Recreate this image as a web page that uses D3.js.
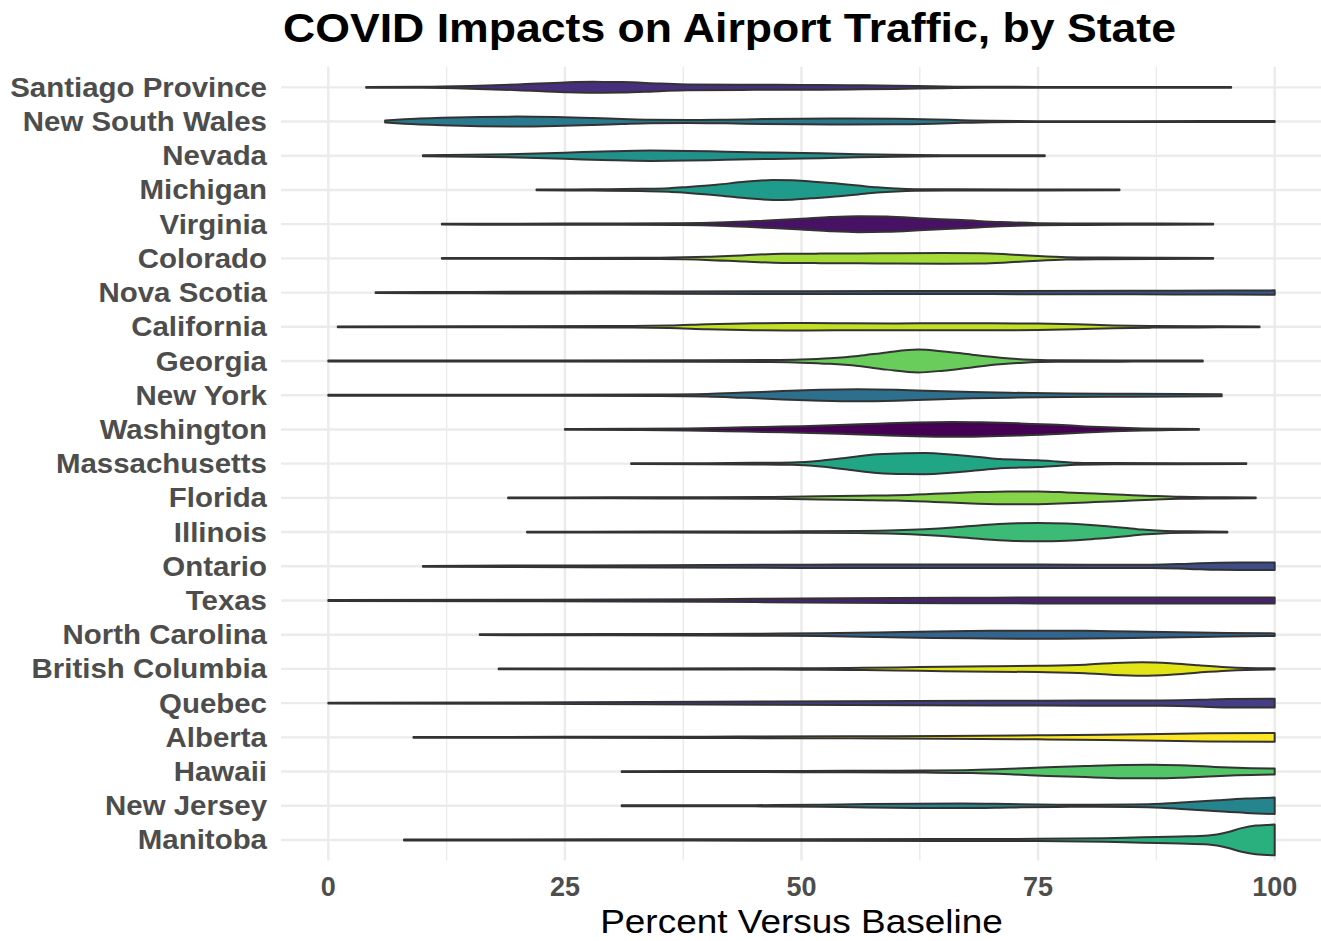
<!DOCTYPE html>
<html>
<head>
<meta charset="utf-8">
<script src="https://cdn.jsdelivr.net/npm/d3@7"></script>
<style>
  html, body { margin: 0; padding: 0; background: #ffffff; }
  svg { display: block; }
  text { font-family: "Liberation Sans", Arial, Helvetica, sans-serif; }
</style>
</head>
<body>
<svg id="chart" width="1321" height="941"></svg>
<script>
// ---------------- DATA ----------------
const chartTitle = "COVID Impacts on Airport Traffic, by State";
const xAxisTitle = "Percent Versus Baseline";
const xTicks = [0, 25, 50, 75, 100];
const xMinorTicks = [12.5, 37.5, 62.5, 87.5];

// categories, top to bottom
const states = [
  "Santiago Province", "New South Wales", "Nevada", "Michigan", "Virginia",
  "Colorado", "Nova Scotia", "California", "Georgia", "New York",
  "Washington", "Massachusetts", "Florida", "Illinois", "Ontario",
  "Texas", "North Carolina", "British Columbia", "Quebec", "Alberta",
  "Hawaii", "New Jersey", "Manitoba"
];

// estimated density profile per state: [percent vs baseline, relative density]
const santiagoProvince = [[4,0.4],[10,0.5],[15,1.3],[20,2.8],[25,4.8],[28,5.4],[31,5.2],[35,3.8],[38,2.9],[45,2.5],[50,2.4],[55,2.1],[60,1.6],[65,0.8],[70,0.5],[80,0.4],[90,0.4],[95.4,0.3]];
const newSouthWales = [[6,1],[8,2.2],[12,3.7],[16,4.6],[20,4.9],[24,4.4],[28,3.4],[31,2.5],[34,1.7],[38,1.4],[42,1.8],[46,2.4],[50,2.8],[55,3],[60,2.8],[64,2.1],[67,1.3],[70,0.7],[75,0.4],[85,0.4],[100,0.5]];
const nevada = [[10,0.5],[15,0.9],[20,1.7],[25,3],[30,4.5],[34,5.1],[38,4.8],[42,4],[47,3.1],[52,2.4],[56,1.6],[60,1],[65,0.6],[70,0.5],[75.7,0.4]];
const michigan = [[22,0.4],[28,0.6],[33,1.1],[36,1.7],[38,3],[41,5.2],[44,8],[47,9.8],[49,9.6],[51,8.3],[54,6.2],[56,4.4],[58,2.6],[60,1.4],[62,0.8],[66,0.6],[75,0.5],[83.6,0.4]];
const virginia = [[12,0.4],[20,0.5],[30,0.6],[37,0.9],[42,1.9],[46,3.5],[50,5.3],[53,7],[56,7.9],[59,7.5],[63,5.7],[67,4],[71,2.1],[75,1],[80,0.7],[88,0.6],[93.5,0.4]];
const colorado = [[12,0.4],[25,0.5],[35,0.7],[40,1.5],[44,3.2],[48,4.5],[52,4.7],[56,4.8],[60,5.1],[65,5.3],[69,5.1],[72,3.9],[75,2.3],[78,1.2],[82,0.8],[88,0.6],[93.5,0.4]];
const novaScotia = [[5,0.4],[15,0.7],[30,1],[50,1.4],[70,1.5],[85,1.7],[95,2],[100,2.2]];
const california = [[1,0.4],[15,0.5],[30,0.7],[36,1.2],[40,2.5],[45,3.4],[50,3.7],[55,3.4],[60,3.3],[65,3.5],[70,3.5],[75,3.2],[79,2.5],[83,1.4],[87,0.8],[92,0.6],[98.4,0.4]];
const georgia = [[0,0.4],[20,0.5],[40,0.7],[46,1],[50,1.6],[53,2.8],[56,5],[59,8.5],[62.3,11.3],[65,9.5],[68,6.3],[71,3.3],[73.5,1.6],[77,0.8],[85,0.6],[92.4,0.4]];
const newYork = [[0,0.4],[20,0.5],[35,0.7],[40,1.2],[44,2.6],[48,4.1],[52,5.4],[56,6],[60,5.4],[64,4.1],[68,3.1],[72,2.4],[78,1.8],[85,1.4],[90,1.3],[94.4,1]];
const washington = [[25,0.4],[32,0.6],[38,1],[42,1.7],[46,2.5],[50,3.2],[54,4.3],[58,5.6],[62,6.8],[66,7.3],[69,7],[73,6],[77,4.6],[80,3],[83,1.8],[86,1],[89,0.6],[92,0.4]];
const massachusetts = [[32,0.4],[40,0.5],[45,0.8],[49,1.2],[52,2.9],[55,6],[58,9.2],[61,10.3],[63,10.4],[66,8.8],[69,6.3],[71,4.5],[73,3.9],[75,3.3],[77,2.2],[79,1],[83,0.6],[90,0.5],[97,0.4]];
const florida = [[19,0.4],[30,0.5],[40,0.6],[47,0.9],[52,1.5],[56,2.2],[60,2.7],[64,4],[68,5.5],[72,6.4],[75,6.3],[78,5.4],[81,4.2],[84,3],[87,1.9],[90,1],[94,0.6],[98,0.4]];
const illinois = [[21,0.4],[35,0.5],[50,0.7],[56,1],[60,1.7],[63,2.8],[66,4.5],[69,6.8],[72,8.5],[75,9],[78,8.5],[81,6.7],[84,4.3],[86,2.5],[88,1.3],[91,0.7],[95,0.4]];
const ontario = [[10,0.4],[20,0.7],[35,1.1],[50,1.6],[60,1.8],[70,1.8],[80,1.6],[87,1.6],[91,2.6],[94,3.5],[100,3.7]];
const texas = [[0,0.4],[20,0.7],[40,1.3],[50,1.9],[60,2.4],[70,2.8],[80,2.9],[90,2.9],[100,2.9]];
const northCarolina = [[16,0.4],[30,0.6],[45,1],[52,1.4],[58,2.2],[64,3.2],[70,3.8],[75,4],[80,3.8],[85,3.2],[90,2.5],[95,1.8],[100,1.3]];
const britishColumbia = [[18,0.4],[35,0.5],[50,0.7],[55,1],[60,1.5],[65,2.2],[70,2.7],[75,3.1],[80,4.2],[83,5.9],[86,6.7],[89,5.7],[92,3.5],[95,1.7],[97,1],[100,0.6]];
const quebec = [[0,0.4],[20,0.7],[40,1.3],[55,1.9],[70,2.3],[80,2.5],[88,2.7],[92,3.3],[95,4.2],[100,4.3]];
const alberta = [[9,0.4],[25,0.5],[40,0.7],[55,1],[65,1.4],[75,2],[82,2.6],[88,3.3],[93,4],[100,4.3]];
const hawaii = [[31,0.4],[45,0.5],[55,0.7],[63,1],[68,1.5],[72,2.7],[76,4.3],[80,5.5],[84,6.5],[87,6.7],[90,6.2],[93,4.9],[96,3.7],[100,2.9]];
const newJersey = [[31,0.4],[45,0.6],[52,1],[57,1.7],[62,2.1],[67,2.2],[72,1.7],[77,1.1],[81,0.9],[85,1.2],[88,2],[91,3.7],[94,5.5],[97,7.1],[100,8.1]];
const manitoba = [[8,0.4],[30,0.6],[50,0.7],[65,0.9],[75,1.1],[82,1.7],[86,2.7],[90,3.5],[93,4.5],[95,7.7],[96.5,11.7],[98,14.2],[100,15.2]];

const profiles = [
  santiagoProvince, newSouthWales, nevada, michigan, virginia,
  colorado, novaScotia, california, georgia, newYork,
  washington, massachusetts, florida, illinois, ontario,
  texas, northCarolina, britishColumbia, quebec, alberta,
  hawaii, newJersey, manitoba
];

// ---------------- CHART ----------------
const panel = { left: 281, right: 1322, top: 66.8, bottom: 860.5 };
const svg = d3.select("#chart");

const x = d3.scaleLinear().domain([-5, 105]).range([panel.left, panel.right]);
const y = d3.scalePoint().domain(states).range([panel.top, panel.bottom]).padding(0.6);

const maxDensity = d3.max(profiles, p => d3.max(p, d => d[1]));
const w = d3.scaleLinear().domain([0, maxDensity]).range([0, y.step() * 0.45]);

// fill: viridis over reverse-alphabetical order of states
const fillOrder = states.slice().sort(d3.descending);
const color = d3.scaleOrdinal()
  .domain(fillOrder)
  .range(fillOrder.map((d, i) => d3.interpolateViridis(i / (fillOrder.length - 1))));

const grid = svg.append("g");
grid.selectAll("line.minor").data(xMinorTicks).join("line")
  .attr("x1", d => x(d)).attr("x2", d => x(d))
  .attr("y1", panel.top).attr("y2", panel.bottom)
  .attr("stroke", "#ebebeb").attr("stroke-width", 1.4);
grid.selectAll("line.majorx").data(xTicks).join("line")
  .attr("x1", d => x(d)).attr("x2", d => x(d))
  .attr("y1", panel.top).attr("y2", panel.bottom)
  .attr("stroke", "#ebebeb").attr("stroke-width", 2.4);
grid.selectAll("line.majory").data(states).join("line")
  .attr("x1", panel.left).attr("x2", panel.right)
  .attr("y1", d => y(d)).attr("y2", d => y(d))
  .attr("stroke", "#ebebeb").attr("stroke-width", 2.4);

// violins
const violins = svg.append("g");
states.forEach((s, i) => {
  const yc = y(s);
  const area = d3.area()
    .x(d => x(d[0]))
    .y0(d => yc - w(d[1]))
    .y1(d => yc + w(d[1]))
    .curve(d3.curveMonotoneX);
  violins.append("path")
    .datum(profiles[i])
    .attr("d", area)
    .attr("fill", color(s))
    .attr("stroke", "#333333")
    .attr("stroke-width", 2)
    .attr("stroke-linejoin", "round");
});

function stretch(sel, k) {
  sel.each(function () {
    const L = this.getComputedTextLength();
    this.setAttribute("textLength", L * k);
    this.setAttribute("lengthAdjust", "spacingAndGlyphs");
  });
}

// y labels
const yLabels = svg.append("g").selectAll("text").data(states).join("text")
  .attr("x", 267).attr("y", d => y(d) + 9.5)
  .attr("text-anchor", "end")
  .attr("font-size", 27).attr("font-weight", "bold")
  .attr("fill", "#4d4d4d")
  .text(d => d);
stretch(yLabels, 1.09);

// x tick labels
const xLabels = svg.append("g").selectAll("text").data(xTicks).join("text")
  .attr("x", d => x(d)).attr("y", 896)
  .attr("text-anchor", "middle")
  .attr("font-size", 27).attr("font-weight", "bold")
  .attr("fill", "#4d4d4d")
  .text(d => d);
stretch(xLabels, 1.0);

// axis title
const xt = svg.append("text")
  .attr("x", (panel.left + panel.right) / 2).attr("y", 933)
  .attr("text-anchor", "middle")
  .attr("font-size", 33)
  .attr("fill", "#000000")
  .text(xAxisTitle);
stretch(xt, 1.12);

// title
const tt = svg.append("text")
  .attr("x", 283).attr("y", 42)
  .attr("text-anchor", "start")
  .attr("font-size", 40).attr("font-weight", "bold")
  .attr("fill", "#000000")
  .text(chartTitle);
stretch(tt, 1.115);
</script>
</body>
</html>
